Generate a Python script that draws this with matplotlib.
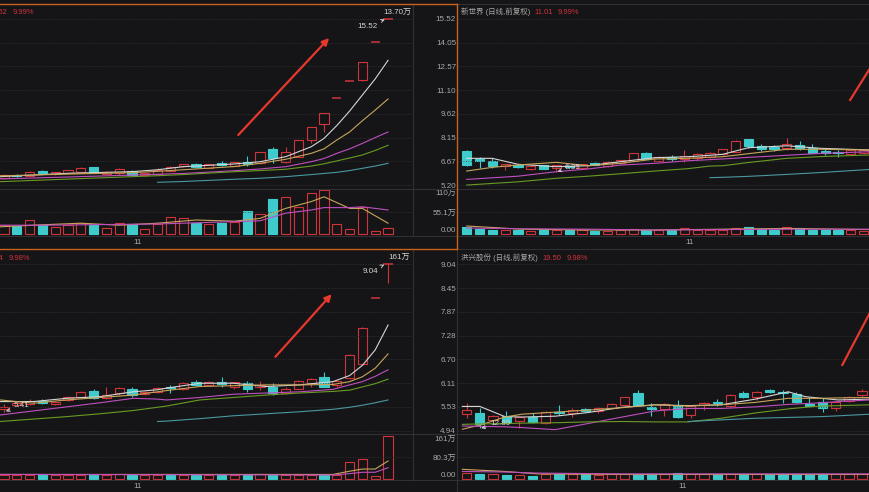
import numpy as np
import matplotlib
matplotlib.use("Agg")
import matplotlib.pyplot as plt
from matplotlib.lines import Line2D

plt.rcParams['font.family'] = ['Liberation Sans', 'Noto Sans CJK SC', 'DejaVu Sans']

# ---------------- data ----------------
# top-left stock, 31 daily candles
tl_open  = [5.65, 5.84, 5.78, 6.07, 5.87, 5.97, 6.03, 6.32, 5.90, 5.93, 6.09, 5.80, 5.87, 6.07, 6.37, 6.49,
            6.28, 6.55, 6.40, 6.63, 6.55, 7.44, 6.61, 6.96, 8.00, 9.00, 10.59, 11.65, 11.73, 14.07, 15.52]
tl_high  = [5.90, 5.88, 6.09, 6.12, 6.02, 6.14, 6.32, 6.34, 6.05, 6.28, 6.12, 5.95, 6.28, 6.38, 6.53, 6.56,
            6.52, 6.70, 6.64, 7.00, 7.26, 7.58, 7.58, 8.02, 8.82, 9.68, 10.59, 11.65, 12.87, 14.07, 15.52]
tl_low   = [5.60, 5.72, 5.76, 5.90, 5.85, 5.95, 6.00, 5.95, 5.88, 5.85, 5.78, 5.76, 5.85, 6.05, 6.35, 6.28,
            6.25, 6.38, 6.38, 6.40, 6.52, 6.55, 6.58, 6.93, 7.79, 8.52, 10.59, 11.65, 11.65, 14.07, 15.52]
tl_close = [5.85, 5.76, 5.99, 5.95, 5.99, 6.12, 6.26, 5.97, 6.00, 6.18, 5.80, 5.93, 6.14, 6.34, 6.51, 6.30,
            6.49, 6.43, 6.61, 6.51, 7.23, 6.86, 7.25, 8.00, 8.79, 9.66, 10.59, 11.65, 12.85, 14.07, 15.52]
tl_vol   = [22, 20, 35, 22, 18, 22, 27, 22, 16, 27, 24, 12, 24, 43, 41, 28, 24, 27, 29, 58, 49, 87, 93, 68,
            102, 109, 26, 13, 68, 7, 15]
tl_ma_x  = [-0.3, 5, 10, 12, 14, 18, 20, 22, 24, 25, 26, 27, 28, 29, 30]
tl_ma5   = [5.72, 5.93, 6.03, 6.15, 6.34, 6.51, 6.65, 6.96, 7.58, 8.10, 8.90, 9.80, 10.80, 11.80, 12.95]
tl_ma10  = [5.77, 5.88, 5.97, 6.05, 6.15, 6.35, 6.55, 6.80, 7.17, 7.45, 8.00, 8.50, 9.20, 9.86, 10.55]
tl_ma20  = [5.58, 5.70, 5.82, 5.87, 5.92, 6.09, 6.20, 6.34, 6.65, 6.85, 7.17, 7.45, 7.79, 8.15, 8.50]
tl_ma30  = [5.41, 5.57, 5.72, 5.78, 5.85, 6.03, 6.10, 6.18, 6.38, 6.52, 6.70, 6.88, 7.07, 7.35, 7.67]
tl_ma60  = [np.nan, np.nan, np.nan, 5.37, 5.42, 5.56, 5.62, 5.72, 5.85, 5.92, 5.99, 6.10, 6.24, 6.38, 6.55]
tl_vma_x = [-0.3, 3, 6, 9, 12, 15, 18, 20, 22, 24, 25, 27, 28, 30]
tl_vma5  = [18, 23, 27, 22, 27, 35, 32, 39, 64, 81, 93, 64, 64, 27]
tl_vma10 = [22, 22, 23, 24, 25, 28, 31, 33, 52, 60, 66, 66, 68, 60]

# top-right: 新世界, 32 candles
tr_open  = [7.33, 6.80, 6.71, 6.40, 6.44, 6.17, 6.44, 6.24, 6.40, 6.28, 6.59, 6.40, 6.55, 6.71, 7.17, 6.71,
            6.96, 6.80, 6.86, 6.92, 7.11, 7.27, 8.06, 7.64, 7.58, 7.52, 7.69, 7.52, 7.33, 7.27, 7.13, 7.17]
tr_high  = [7.36, 6.96, 6.86, 6.50, 6.52, 6.40, 6.46, 6.47, 6.45, 6.52, 6.65, 6.69, 6.77, 7.19, 7.27, 6.98,
            7.07, 7.38, 7.17, 7.23, 7.46, 8.00, 8.08, 7.73, 7.69, 8.10, 7.96, 7.73, 7.42, 7.38, 7.40, 7.37]
tr_low   = [6.40, 6.24, 6.24, 6.13, 6.24, 6.15, 6.18, 6.03, 6.25, 6.26, 6.42, 6.34, 6.52, 6.69, 6.80, 6.69,
            6.69, 6.65, 6.76, 6.90, 7.09, 7.25, 7.48, 7.32, 7.32, 7.38, 7.38, 7.19, 7.07, 6.92, 7.07, 7.15]
tr_close = [6.44, 6.69, 6.38, 6.49, 6.30, 6.38, 6.20, 6.45, 6.30, 6.49, 6.44, 6.61, 6.75, 7.17, 6.82, 6.96,
            6.82, 7.02, 7.11, 7.21, 7.44, 7.93, 7.64, 7.44, 7.42, 7.73, 7.52, 7.21, 7.17, 7.17, 7.38, 7.35]
tr_vol   = [17, 12, 9, 10, 9, 8, 9, 10, 10, 9, 8, 8, 11, 12, 9, 9, 10, 15, 10, 10, 11, 15, 17, 12, 11, 17,
            14, 10, 10, 9, 9, 8]
tr_ma_x  = [0, 2, 4, 7, 9.5, 12, 14.7, 17.3, 19, 20, 22, 25, 27.7, 31.5]
tr_ma5   = [6.86, 6.86, 6.49, 6.34, 6.40, 6.65, 6.90, 6.96, 7.05, 7.11, 7.52, 7.64, 7.48, 7.38]
tr_ma10  = [6.07, 6.30, 6.45, 6.61, 6.40, 6.55, 6.82, 6.86, 6.93, 6.96, 7.15, 7.42, 7.42, 7.38]
tr_ma20  = [5.55, 5.65, 5.75, 6.03, 6.20, 6.44, 6.55, 6.71, 6.78, 6.82, 6.92, 7.05, 7.17, 7.27]
tr_ma30  = [5.20, 5.30, 5.40, 5.62, 5.75, 5.90, 6.07, 6.22, 6.38, 6.40, 6.60, 6.86, 6.97, 7.07]
tr_ma60  = [np.nan] * 8 + [5.66, 5.68, 5.74, 5.86, 5.98, 6.17]
tr_vma_x = [0, 4.3, 9.5, 14.7, 19.9, 25.1, 31.5]
tr_vma5  = [20, 12, 10, 10, 12, 14, 11]
tr_vma10 = [15, 13, 12, 10, 11, 12, 12]

# bottom-left stock, 31 candles
bl_open  = [5.47, 5.57, 5.59, 5.68, 5.60, 5.70, 5.78, 5.92, 5.74, 5.88, 5.96, 5.84, 5.90, 6.03, 5.97, 6.15,
            6.07, 6.15, 6.03, 6.11, 6.01, 6.03, 5.88, 5.98, 6.11, 6.26, 6.07, 6.25, 6.58, 8.21, 9.04]
bl_high  = [5.61, 5.66, 5.72, 5.73, 5.67, 5.79, 5.92, 5.96, 6.01, 6.03, 6.03, 5.92, 6.02, 6.07, 6.15, 6.19,
            6.17, 6.27, 6.15, 6.17, 6.17, 6.11, 6.03, 6.19, 6.23, 6.38, 6.19, 6.82, 7.48, 8.21, 9.04]
bl_low   = [5.41, 5.55, 5.57, 5.60, 5.58, 5.68, 5.76, 5.72, 5.72, 5.82, 5.76, 5.81, 5.88, 5.88, 5.95, 6.05,
            6.05, 6.03, 5.96, 5.90, 5.94, 5.82, 5.84, 5.96, 6.03, 6.01, 6.03, 6.21, 6.56, 8.21, 8.58]
bl_close = [5.53, 5.63, 5.67, 5.63, 5.65, 5.76, 5.90, 5.74, 5.82, 5.99, 5.81, 5.89, 6.00, 6.00, 6.11, 6.07,
            6.15, 6.09, 6.13, 5.96, 6.07, 5.86, 5.98, 6.17, 6.21, 6.03, 6.17, 6.80, 7.46, 8.21, 9.04]
bl_vol   = [15, 15, 15, 15, 15, 15, 15, 15, 15, 17, 15, 15, 15, 15, 15, 15, 15, 15, 15, 15, 19, 15, 15, 15,
            15, 15, 15, 62, 73, 10, 161]
bl_ma_x  = [-0.3, 2.3, 4.9, 7.5, 10.1, 12, 12.7, 15.3, 17.9, 20.5, 23.1, 25.7, 27, 28, 29, 30]
bl_ma5   = [5.66, 5.66, 5.74, 5.78, 5.90, 5.95, 5.99, 6.11, 6.11, 6.03, 6.07, 6.15, 6.30, 6.55, 6.93, 7.54]
bl_ma10  = [5.70, 5.62, 5.70, 5.76, 5.82, 5.90, 5.93, 6.03, 6.05, 6.07, 6.07, 6.08, 6.15, 6.27, 6.48, 6.83]
bl_ma20  = [5.33, 5.43, 5.53, 5.63, 5.74, 5.72, 5.70, 5.76, 5.84, 5.87, 5.90, 5.96, 6.07, 6.15, 6.28, 6.44]
bl_ma30  = [5.17, 5.23, 5.29, 5.36, 5.44, 5.52, 5.55, 5.70, 5.76, 5.82, 5.87, 5.91, 5.94, 6.02, 6.10, 6.21]
bl_ma60  = [np.nan] * 5 + [5.17, 5.18, 5.24, 5.31, 5.36, 5.41, 5.47, 5.52, 5.57, 5.63, 5.70]
bl_vma_x = [-0.3, 25.7, 27, 28, 29, 30]
bl_vma5  = [17, 17, 29, 37, 37, 67]
bl_vma10 = [17, 15, 20, 25, 25, 42]

# bottom-right: 洪兴股份, 31 candles
br_open  = [5.35, 5.37, 5.21, 5.31, 5.19, 5.27, 5.13, 5.41, 5.37, 5.47, 5.43, 5.49, 5.58, 5.88, 5.52, 5.48,
            5.55, 5.33, 5.58, 5.66, 5.55, 5.86, 5.78, 5.95, 5.90, 5.84, 5.59, 5.66, 5.49, 5.67, 5.82]
br_high  = [5.62, 5.49, 5.33, 5.43, 5.29, 5.37, 5.42, 5.58, 5.49, 5.51, 5.53, 5.62, 5.78, 5.94, 5.62, 5.62,
            5.70, 5.56, 5.66, 5.72, 5.84, 5.92, 5.91, 5.98, 5.94, 5.90, 5.76, 5.74, 5.66, 5.80, 5.97]
br_low   = [5.25, 5.00, 5.16, 5.13, 5.02, 5.13, 5.11, 5.33, 5.29, 5.40, 5.37, 5.48, 5.56, 5.56, 5.31, 5.31,
            5.25, 5.25, 5.45, 5.54, 5.53, 5.74, 5.70, 5.86, 5.62, 5.62, 5.56, 5.41, 5.43, 5.64, 5.78]
br_close = [5.45, 5.10, 5.31, 5.17, 5.27, 5.15, 5.40, 5.38, 5.45, 5.44, 5.51, 5.59, 5.76, 5.58, 5.47, 5.59,
            5.29, 5.54, 5.63, 5.62, 5.82, 5.78, 5.89, 5.90, 5.86, 5.66, 5.56, 5.49, 5.64, 5.78, 5.93]
br_vol   = [21, 19, 17, 15, 15, 13, 20, 19, 19, 17, 15, 17, 17, 17, 17, 17, 22, 17, 17, 17, 17, 17, 17, 17,
            17, 17, 17, 17, 17, 17, 17]
br_ma_x  = [-0.33, 1.0, 2.9, 4.2, 6.7, 9.2, 11.8, 14.3, 16.8, 19.3, 21.9, 24.4, 25.7, 26.9, 28.2, 30.6]
br_ma5   = [5.54, 5.54, 5.29, 5.28, 5.30, 5.39, 5.52, 5.58, 5.56, 5.58, 5.72, 5.90, 5.78, 5.74, 5.70, 5.72]
br_ma10  = [4.98, 5.08, 5.28, 5.35, 5.40, 5.45, 5.51, 5.58, 5.55, 5.58, 5.64, 5.74, 5.74, 5.74, 5.75, 5.76]
br_ma20  = [5.06, 5.05, 5.04, 5.02, 4.97, 5.12, 5.28, 5.43, 5.49, 5.49, 5.53, 5.59, 5.61, 5.63, 5.66, 5.70]
br_ma30  = [5.10, 5.11, 5.12, 5.13, 5.14, 5.16, 5.17, 5.16, 5.16, 5.25, 5.38, 5.48, 5.52, 5.55, 5.56, 5.58]
br_ma60  = [np.nan] * 8 + [5.17, 5.21, 5.25, 5.27, 5.28, 5.29, 5.31, 5.35]
br_vma_x = [-0.33, 2.9, 5.4, 11.8, 30.6]
br_vma5  = [36, 28, 19, 17, 17]
br_vma10 = [28, 26, 22, 19, 19]

top_ticks = [15.52, 14.05, 12.57, 11.10, 9.62, 8.15, 6.67, 5.20]
bot_ticks = [9.04, 8.45, 7.87, 7.28, 6.70, 6.11, 5.53, 4.94]
top_vticks = [0, 55.1, 110]
top_vlabels = ['0.00', '55.1万', '110万']
bot_vticks = [0, 80.3, 161]
bot_vlabels = ['0.00', '80.3万', '161万']

# ---------------- style ----------------
W, H = 870, 492
BG = '#151517'
RED = '#cf333b'
CYAN = '#3fcbcb'
ARROW_RED = '#e6382c'
TXT = '#a8a8a8'
WHITE_TXT = '#d4d4d4'
GRID = '#3a3a3a'
LINE = '#2f2f34'
ORANGE = '#c8621c'
MA_COLORS = ['#d6d6d6', '#c7a55a', '#bf4fbf', '#6a9a24', '#4a98a0']
FS = 5.8
FS_TITLE = 5.4

fig = plt.figure(figsize=(W / 100, H / 100), dpi=100, facecolor=BG)


def px_axes(x0, y0, x1, y1):
    ax = fig.add_axes([x0 / W, 1 - y1 / H, (x1 - x0) / W, (y1 - y0) / H])
    ax.set_facecolor(BG)
    for s in ax.spines.values():
        s.set_visible(False)
    return ax


def fig_line(x0, y0, x1, y1, color, lw=0.8):
    fig.add_artist(Line2D([x0 / W, x1 / W], [1 - y0 / H, 1 - y1 / H],
                          transform=fig.transFigure, color=color, lw=lw))


def fig_txt(x, y, s, color, ha='left'):
    fig.text(x / W, 1 - y / H, s, color=color, fontsize=FS_TITLE, ha=ha, va='center')


def draw_candles(ax, o, h, l, c, w=0.72):
    o, h, l, c = map(np.asarray, (o, h, l, c))
    x = np.arange(len(o))
    up = c >= o
    col = np.where(up, RED, CYAN)
    top = np.maximum(o, c)
    bot = np.minimum(o, c)
    ax.vlines(x, top, h, colors=col, lw=0.8)
    ax.vlines(x, l, bot, colors=col, lw=0.8)
    body = c != o
    ax.bar(x[body], (top - bot)[body], bottom=bot[body], width=w,
           color=np.where(up, BG, CYAN)[body], edgecolor=col[body], linewidth=0.8)
    ax.hlines(o[~body], x[~body] - w / 2, x[~body] + w / 2, colors=RED, lw=1.1)
    return col


def draw_volume(ax, vol, col, w=0.72):
    x = np.arange(len(vol))
    fc = [BG if cc == RED else CYAN for cc in col]
    ax.bar(x, vol, width=w, color=fc, edgecolor=col, linewidth=0.8)


def setup_price(ax, xlim, ylim, ticks, labels_on):
    ax.set_xlim(*xlim)
    ax.set_ylim(*ylim)
    ax.set_xticks([])
    ax.yaxis.tick_right()
    ax.set_yticks(ticks)
    ax.tick_params(axis='y', length=0, pad=31, labelsize=FS, labelcolor=TXT,
                   right=False, labelright=labels_on)
    if labels_on:
        ax.set_yticklabels([f'{t:.2f}' for t in ticks], ha='right')
    ax.grid(axis='y', color=GRID, linestyle=(0, (1, 2)), linewidth=0.6)


def setup_volume(ax, xlim, ylim, ticks, labels, labels_on, month_x):
    ax.set_xlim(*xlim)
    ax.set_ylim(*ylim)
    ax.yaxis.tick_right()
    ax.set_yticks(ticks)
    ax.tick_params(axis='y', length=0, pad=31, labelsize=FS, labelcolor=TXT,
                   right=False, labelright=labels_on)
    if labels_on:
        ax.set_yticklabels(labels, ha='right')
        lbs = ax.get_yticklabels()
        lbs[0].set_va('bottom')
        lbs[-1].set_va('top')
    ax.axhline(ticks[1], color=GRID, linestyle=(0, (1, 2)), linewidth=0.6)
    ax.set_xticks([month_x])
    ax.set_xticklabels(['11'])
    ax.tick_params(axis='x', length=0, pad=2, labelsize=FS, labelcolor=TXT)


def draw_mas(ax, xs, series):
    for s, cc in zip(series, MA_COLORS):
        ax.plot(xs, s, color=cc, lw=0.8)


def draw_vmas(ax, xs, series):
    for s, cc in zip(series, MA_COLORS[1:3]):
        ax.plot(xs, s, color=cc, lw=0.8)


def mark(ax, s, xy, xytext):
    ax.annotate(s, xy=xy, xytext=xytext, color=WHITE_TXT, fontsize=FS, ha='center', va='center',
                arrowprops=dict(arrowstyle='->', color=WHITE_TXT, lw=0.6, shrinkA=1, shrinkB=1))


top_ylim = (4.954, 16.39)
bot_ylim = (4.863, 9.384)
top_vylim = (-5, 112.5)
bot_vylim = (-3.7, 167.3)
left_xlim = (-0.31, 31.95)
tr_xlim = (-0.68, 31.5)
br_xlim = (-0.66, 30.6)

# ---- top-left ----
ax = px_axes(0, 5, 413, 189)
setup_price(ax, left_xlim, top_ylim, top_ticks, True)
col = draw_candles(ax, tl_open, tl_high, tl_low, tl_close)
draw_mas(ax, tl_ma_x, [tl_ma5, tl_ma10, tl_ma20, tl_ma30, tl_ma60])
ax.annotate('', xy=(25.4, 14.34), xytext=(18.3, 8.31),
            arrowprops=dict(arrowstyle='-|>', color=ARROW_RED, lw=1.6, mutation_scale=10,
                            shrinkA=0, shrinkB=0))
mark(ax, '15.52', (29.85, 15.52), (28.4, 15.08))
ax.text(30.7, 15.95, '13.70万', color=WHITE_TXT, fontsize=FS, ha='center', va='center')
axv = px_axes(0, 189, 413, 236)
setup_volume(axv, left_xlim, top_vylim, top_vticks, top_vlabels, True, 10.4)
draw_volume(axv, tl_vol, col)
draw_vmas(axv, tl_vma_x, [tl_vma5, tl_vma10])

# ---- top-right ----
ax = px_axes(458, 5, 870, 189)
setup_price(ax, tr_xlim, top_ylim, top_ticks, False)
col = draw_candles(ax, tr_open, tr_high, tr_low, tr_close)
draw_mas(ax, tr_ma_x, [tr_ma5, tr_ma10, tr_ma20, tr_ma30, tr_ma60])
ax.plot([29.95, 32.3], [10.49, 13.47], color=ARROW_RED, lw=1.6)
mark(ax, '6.35', (7.0, 6.03), (8.3, 6.32))
axv = px_axes(458, 189, 870, 236)
setup_volume(axv, tr_xlim, top_vylim, top_vticks, top_vlabels, False, 17.4)
draw_volume(axv, tr_vol, col)
draw_vmas(axv, tr_vma_x, [tr_vma5, tr_vma10])

# ---- bottom-left ----
ax = px_axes(0, 250, 413, 434)
setup_price(ax, left_xlim, bot_ylim, bot_ticks, True)
col = draw_candles(ax, bl_open, bl_high, bl_low, bl_close)
draw_mas(ax, bl_ma_x, [bl_ma5, bl_ma10, bl_ma20, bl_ma30, bl_ma60])
ax.annotate('', xy=(25.6, 8.30), xytext=(21.2, 6.76),
            arrowprops=dict(arrowstyle='-|>', color=ARROW_RED, lw=1.6, mutation_scale=10,
                            shrinkA=0, shrinkB=0))
mark(ax, '9.04', (29.8, 9.04), (28.6, 8.85))
mark(ax, '5.41', (0.05, 5.41), (1.4, 5.56))
ax.text(30.9, 9.21, '161万', color=WHITE_TXT, fontsize=FS, ha='center', va='center')
axv = px_axes(0, 434, 413, 480)
setup_volume(axv, left_xlim, bot_vylim, bot_vticks, bot_vlabels, True, 10.4)
draw_volume(axv, bl_vol, col)
draw_vmas(axv, bl_vma_x, [bl_vma5, bl_vma10])

# ---- bottom-right ----
ax = px_axes(458, 250, 870, 434)
setup_price(ax, br_xlim, bot_ylim, bot_ticks, False)
col = draw_candles(ax, br_open, br_high, br_low, br_close, w=0.7)
draw_mas(ax, br_ma_x, [br_ma5, br_ma10, br_ma20, br_ma30, br_ma60])
ax.plot([28.5, 31.7], [6.56, 8.52], color=ARROW_RED, lw=1.6)
mark(ax, '12.89', (1.0, 5.00), (2.55, 5.11))
axv = px_axes(458, 434, 870, 480)
setup_volume(axv, br_xlim, bot_vylim, bot_vticks, bot_vlabels, False, 16.4)
draw_volume(axv, br_vol, col, w=0.7)
draw_vmas(axv, br_vma_x, [br_vma5, br_vma10])

# ---- frame lines ----
for y in (189, 236, 434, 480):
    fig_line(0, y, 870, y, LINE)
fig_line(413, 5, 413, 236, LINE)
fig_line(413, 250, 413, 480, LINE)
fig_line(457, 4, 870, 4, LINE)
fig_line(457, 249, 870, 249, LINE)
fig_line(457, 249, 457, 492, LINE)
fig_line(0, 4, 457, 4, ORANGE, 1.0)
fig_line(457, 4, 457, 249, ORANGE, 1.0)
fig_line(0, 249, 457, 249, ORANGE, 1.0)

# ---- titles (left ones are cut by the screenshot edge) ----
fig_txt(7, 12, '15.52', RED, ha='right')
fig_txt(13, 12, '9.99%', RED)
fig_txt(461, 12, '新世界 (日线,前复权)', TXT)
fig_txt(534, 12, '11.01', RED)
fig_txt(558, 12, '9.99%', RED)
fig_txt(3, 258, '9.04', RED, ha='right')
fig_txt(9, 258, '9.98%', RED)
fig_txt(461, 258, '洪兴股份 (日线,前复权)', TXT)
fig_txt(542, 258, '19.50', RED)
fig_txt(567, 258, '9.98%', RED)

fig.savefig('out.png', dpi=100, facecolor=BG)
